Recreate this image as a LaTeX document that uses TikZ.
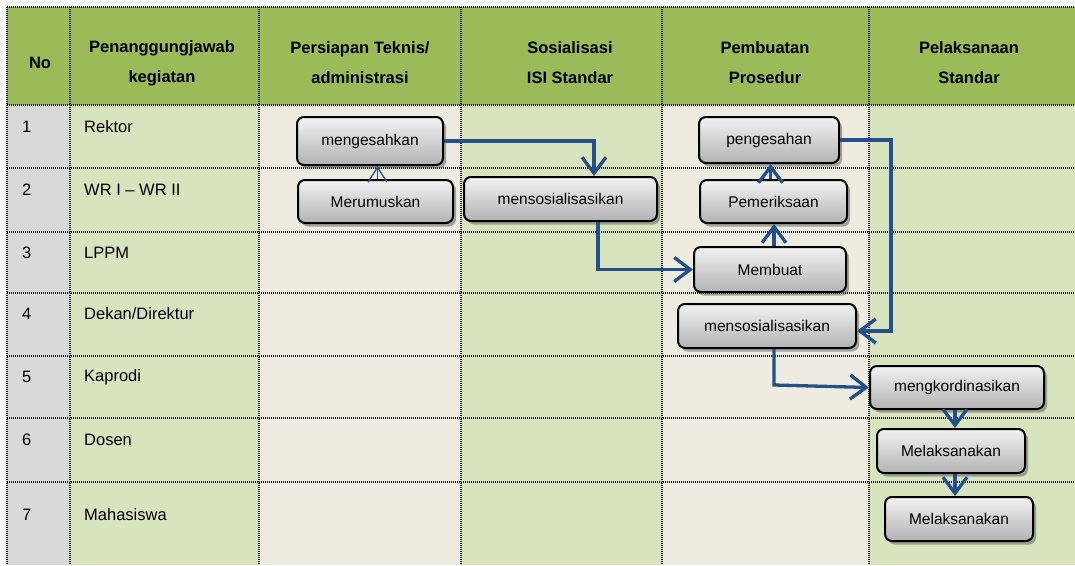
\documentclass[tikz,border=0pt]{standalone}
\usepackage{fontspec}
\setmainfont{Liberation Sans}
\usetikzlibrary{arrows.meta,shadows}
\definecolor{hdr}{HTML}{9BBB59}
\definecolor{lgreen}{HTML}{D7E4BD}
\definecolor{cream}{HTML}{EEECE1}
\definecolor{lgray}{HTML}{D9D9D9}
\definecolor{arrowblue}{HTML}{23508A}
\begin{document}
\begin{tikzpicture}[x=1pt,y=-1pt,
  grid/.style={dash pattern=on 1pt off 1pt, line width=1.2pt, black!90},
  head/.style={font=\fontsize{16.5}{30}\selectfont\bfseries, align=center, inner sep=0pt},
  cell/.style={font=\fontsize{16.5}{20}\selectfont, anchor=west, inner sep=0pt},
  box/.style={draw=black, line width=2pt, rounded corners=7pt,
    top color=black!5, bottom color=black!30,
    drop shadow={shadow xshift=3pt, shadow yshift=-3.5pt, opacity=0.45, fill=black!70},
    font=\fontsize{15.5}{18}\selectfont, inner sep=0pt},
  arr/.style={draw=arrowblue, line width=3.3pt, -{Straight Barb[length=16pt,width=24pt]}},
  thinarr/.style={draw=arrowblue, line width=1.3pt, -{Straight Barb[length=15pt,width=19pt]}}
]
\useasboundingbox (0,0) rectangle (1075,565);
% backgrounds
\fill[hdr] (7,7) rectangle (1075,105);
\fill[lgray] (7,105) rectangle (70,565);
\fill[lgreen] (70,105) rectangle (259,565);
\fill[cream] (259,105) rectangle (461,565);
\fill[lgreen] (461,105) rectangle (662,565);
\fill[cream] (662,105) rectangle (869,565);
\fill[lgreen] (869,105) rectangle (1075,565);
% grid
\foreach \x in {7,70,259,461,662,869} \draw[grid] (\x,7) -- (\x,565);
\foreach \y in {7,105,168,232,293,356,418,482} \draw[grid] (7,\y) -- (1075,\y);
% headers
\node[head] (hNo) at (40,63) {No};
\node[head] (hPj) at (162,63) {Penanggungjawab\\kegiatan};
\node[head] (hPt) at (360,63) {Persiapan Teknis/\\administrasi};
\node[head] (hSo) at (570,63) {Sosialisasi\\ISI Standar};
\node[head] (hPb) at (765,63) {Pembuatan\\Prosedur};
\node[head] (hPl) at (969,63) {Pelaksanaan\\Standar};
% rows
\node[cell] (r1) at (22,127) {1}; \node[cell] (p1) at (84,127) {Rektor};
\node[cell] (r2) at (22,190) {2}; \node[cell] (p2) at (84,190) {WR I – WR II};
\node[cell] (r3) at (22,253) {3}; \node[cell] (p3) at (84,253) {LPPM};
\node[cell] (r4) at (22,314) {4}; \node[cell] (p4) at (84,314) {Dekan/Direktur};
\node[cell] (r5) at (22,377) {5}; \node[cell] (p5) at (84,377) {Kaprodi};
\node[cell] (r6) at (22,440) {6}; \node[cell] (p6) at (84,440) {Dosen};
\node[cell] (r7) at (22,515) {7}; \node[cell] (p7) at (84,515) {Mahasiswa};
% boxes
\node[box, minimum width=146, minimum height=48] (n1) at (370,141) {mengesahkan};
\node[box, minimum width=155, minimum height=43] (n2) at (375.5,201.5) {Merumuskan};
\node[box, minimum width=193, minimum height=44] (n3) at (560.5,199) {mensosialisasikan};
\node[box, minimum width=140, minimum height=46] (n4) at (769,140) {pengesahan};
\node[box, minimum width=147, minimum height=43] (n5) at (773.5,201.5) {Pemeriksaan};
\node[box, minimum width=152, minimum height=45] (n6) at (770,269.5) {Membuat};
\node[box, minimum width=178, minimum height=44] (n7) at (767,326) {mensosialisasikan};
\node[box, minimum width=174, minimum height=43] (n8) at (957,387.5) {mengkordinasikan};
\node[box, minimum width=148, minimum height=44] (n9) at (951,451) {Melaksanakan};
\node[box, minimum width=148, minimum height=44] (n10) at (959,519) {Melaksanakan};
% connectors
\draw[arr] (n1.east) -| ([xshift=33.5]n3.north);
\draw[thinarr] ([xshift=2]n2.north) -- ([xshift=2]n2.north |- n1.south);
\draw[arr] ([xshift=37.5]n3.south) |- (n6.west);
\draw[arr] ([xshift=4]n6.north) -- ([xshift=4]n6.north |- n5.south);
\draw[arr] ([xshift=-3]n5.north) -- ([xshift=-3]n5.north |- n4.south);
\draw[arr] (n4.east) -- ++(51,0) |- ([yshift=-5]n7.east);
\draw[arr] ([xshift=7]n7.south) -- ++(0,36) -- (n8.west);
\draw[arr] ([xshift=-2]n8.south) -- ([xshift=-2]n8.south |- n9.north);
\draw[arr] ([xshift=4]n9.south) -- ([xshift=4]n9.south |- n10.north);
\end{tikzpicture}
\end{document}
